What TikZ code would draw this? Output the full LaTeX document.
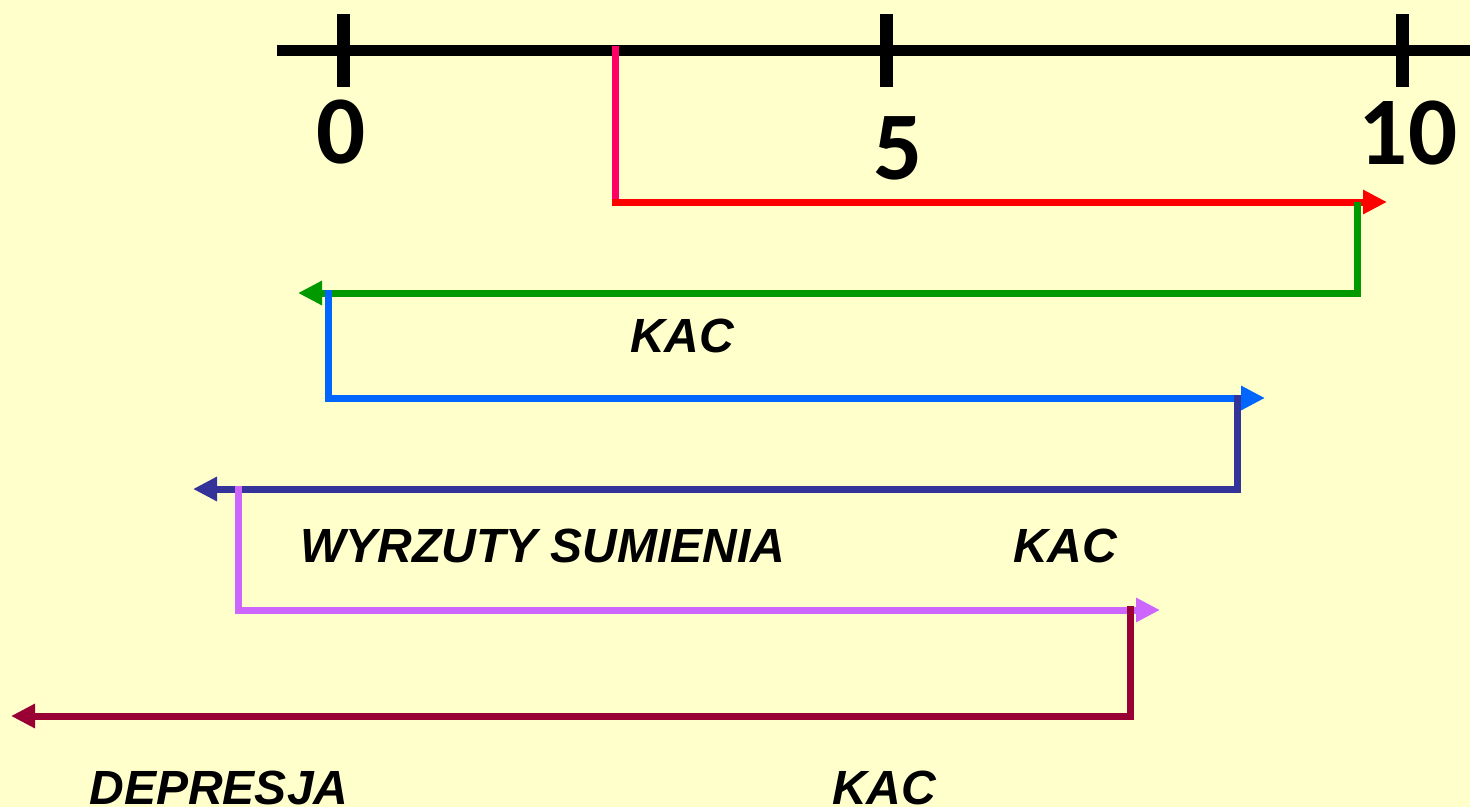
\documentclass[tikz,border=0pt]{standalone}
\usepackage{fontspec}
\setmainfont{Liberation Sans}
\newfontfamily\numfont{Carlito}
\usetikzlibrary{arrows.meta}
\definecolor{bg}{HTML}{FFFFCC}
\definecolor{cpink}{HTML}{FF0066}
\definecolor{cred}{HTML}{FF0000}
\definecolor{cgreen}{HTML}{009900}
\definecolor{cblue}{HTML}{0066FF}
\definecolor{cnavy}{HTML}{333399}
\definecolor{cviolet}{HTML}{CC66FF}
\definecolor{cmaroon}{HTML}{990033}
\tikzset{
  conn/.style={line width=7pt},
  arr/.style={conn,-{Triangle[length=24pt,width=23pt]}},
  lbl/.style={font=\fontsize{48}{52}\selectfont\bfseries\itshape, inner sep=0pt},
  num/.style={font=\numfont\fontsize{97}{100}\selectfont\bfseries, inner sep=0pt},
  tick/.style={line width=13pt}
}
\begin{document}
\begin{tikzpicture}[x=1pt,y=-1pt]
\fill[bg] (0,0) rectangle (1470,807);
\useasboundingbox (0,0) rectangle (1470,807);
% axis
\coordinate (axL) at (277,50);
\coordinate (axR) at (1470,50);
\draw[line width=11pt] (axL) -- (axR);
\coordinate (t0a) at (343,14); \coordinate (t0b) at (343,87);
\coordinate (t5a) at (886,14); \coordinate (t5b) at (886,87);
\coordinate (t10a) at (1402,14); \coordinate (t10b) at (1402,87);
\draw[tick] (t0a) -- (t0b);
\draw[tick] (t5a) -- (t5b);
\draw[tick] (t10a) -- (t10b);
\node[num] (n0) at (341,132) {0};
\node[num] (n5) at (898,148) {5};
\node[num] (n10) at (1408,133) {10};
% coordinates
\coordinate (r0) at (615,46);
\coordinate (r1) at (615,202);
\coordinate (r2) at (1387,202);
\coordinate (g0) at (1357,202);
\coordinate (g1) at (1357,293);
\coordinate (g2) at (298,293);
\coordinate (b0) at (328,290);
\coordinate (b1) at (328,398);
\coordinate (b2) at (1265,398);
\coordinate (n0c) at (1237,395);
\coordinate (n1c) at (1237,489);
\coordinate (n2c) at (193,489);
\coordinate (v0) at (238,486);
\coordinate (v1) at (238,610);
\coordinate (v2) at (1160,610);
\coordinate (m0) at (1130,606);
\coordinate (m1) at (1130,716);
\coordinate (m2) at (11,716);
% connectors
\draw[conn,cpink] (r0) -- ([yshift=3.5pt]r1);
\draw[arr,cred] ([xshift=-3.5pt]r1) -- (r2);
\draw[conn,cgreen] (g0) -- (g1);
\draw[arr,cgreen] ([xshift=3.5pt]g1) -- (g2);
\draw[arr,cblue] (b0) |- (b2);
\draw[arr,cnavy] (n0c) |- (n2c);
\draw[arr,cviolet] (v0) |- (v2);
\draw[arr,cmaroon] (m0) |- (m2);
% labels
\node[lbl] (k1) at (682,336) {KAC};
\node[lbl] (ws) at (543,546) {WYRZUTY SUMIENIA};
\node[lbl] (k2) at (1065,546) {KAC};
\node[lbl] (dep) at (219,788) {DEPRESJA};
\node[lbl] (k3) at (884,788) {KAC};
\end{tikzpicture}
\end{document}
